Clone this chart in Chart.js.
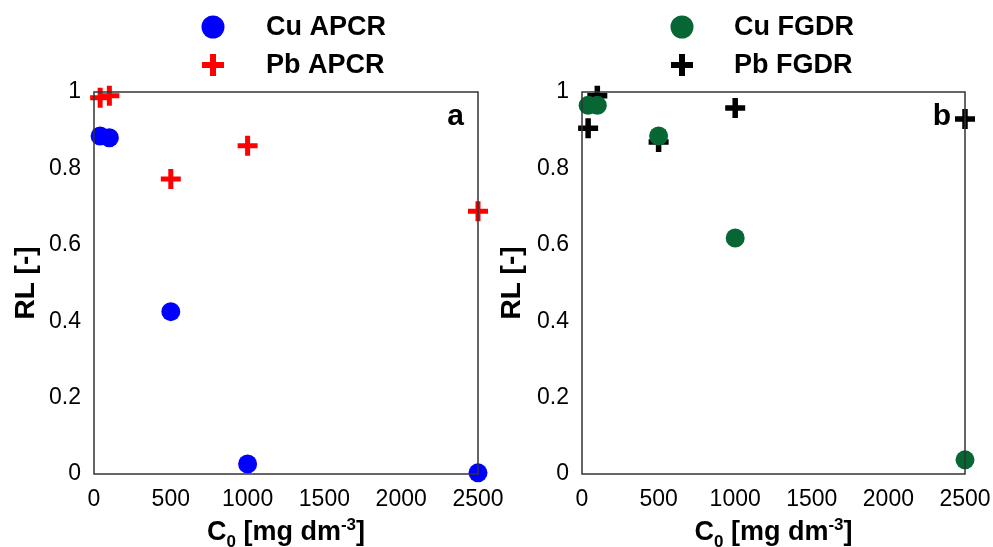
<!DOCTYPE html>
<html>
<head>
<meta charset="utf-8">
<title>RL vs C0</title>
<script src="https://cdn.jsdelivr.net/npm/chart.js@4.4.1/dist/chart.umd.min.js"></script>
<style>
  body { margin: 0; background: #fff; }
  #wrap { position: relative; width: 993px; height: 547px; overflow: hidden; background: #fff; }
  canvas { position: absolute; top: 0; }
  #chartA { left: 0; }
  #chartB { left: 500px; }
</style>
</head>
<body>
<div id="wrap">
  <canvas id="chartA" width="520" height="547"></canvas>
  <canvas id="chartB" width="507" height="547"></canvas>
</div>
<script>
// initial concentrations C0 [mg dm-3]
const conc = [40, 100, 500, 1000, 2500];

// RL values, APCR panel
const cuAPCR = [0.885, 0.88, 0.425, 0.026, 0.003];
const pbAPCR = [0.985, 0.99, 0.772, 0.859, 0.688];

// RL values, FGDR panel
const cuFGDR = [0.965, 0.965, 0.885, 0.618, 0.037];
const pbFGDR = [0.905, 0.99, 0.869, 0.958, 0.929];

const xTickStep = 500;
const yTickStep = 0.2;

const FONT = "'Liberation Sans', Arial, sans-serif";
Chart.defaults.font.family = FONT;
Chart.defaults.color = "#000";

function toPoints(values) {
  return conc.map((c, i) => ({ x: c, y: values[i] }));
}

function circleSet(label, values, color) {
  return {
    label: label,
    data: toPoints(values),
    pointStyle: "circle",
    pointRadius: 9.5,
    pointHoverRadius: 9.5,
    backgroundColor: color,
    borderColor: color,
    borderWidth: 0,
    clip: false,
  };
}

function crossSet(label, values, color, width) {
  return {
    label: label,
    data: toPoints(values),
    pointStyle: "cross",
    pointRadius: 10,
    pointHoverRadius: 10,
    backgroundColor: color,
    borderColor: color,
    borderWidth: width,
    pointBorderWidth: width,
    clip: false,
  };
}

// frame, panel letter, axis titles and stacked legend
const panelDeco = {
  id: "panelDeco",
  afterDatasetsDraw(chart, args, opts) {
    const ctx = chart.ctx;
    const a = chart.chartArea;
    ctx.save();

    ctx.strokeStyle = "#333";
    ctx.lineWidth = 1.5;
    ctx.strokeRect(a.left, a.top, a.right - a.left, a.bottom - a.top);

    ctx.fillStyle = "#000";
    ctx.font = "bold 30px " + FONT;
    ctx.textAlign = "right";
    ctx.textBaseline = "alphabetic";
    ctx.fillText(opts.letter, a.right - 14, 125);

    // x title with subscript / superscript
    const parts = [
      ["C", 0], ["0", 1], [" [mg dm", 0], ["-3", -1], ["]", 0],
    ];
    const big = "bold 27px " + FONT;
    const small = "bold 17px " + FONT;
    let total = 0;
    parts.forEach((p) => {
      ctx.font = p[1] === 0 ? big : small;
      total += ctx.measureText(p[0]).width;
    });
    let x = (a.left + a.right) / 2 - total / 2;
    ctx.textAlign = "left";
    parts.forEach((p) => {
      ctx.font = p[1] === 0 ? big : small;
      const dy = p[1] === 1 ? 7 : p[1] === -1 ? -10 : 0;
      ctx.fillText(p[0], x, 540 + dy);
      x += ctx.measureText(p[0]).width;
    });

    // y title
    ctx.save();
    ctx.translate(opts.yTitleX, (a.top + a.bottom) / 2);
    ctx.rotate(-Math.PI / 2);
    ctx.font = "bold 28px " + FONT;
    ctx.textAlign = "center";
    ctx.textBaseline = "middle";
    ctx.fillText("RL [-]", 0, 0);
    ctx.restore();

    // legend, one entry per row
    chart.data.datasets.forEach((ds, i) => {
      const y = opts.legendY[i];
      const mx = opts.legendMarkX;
      ctx.fillStyle = ds.backgroundColor;
      ctx.strokeStyle = ds.borderColor;
      if (ds.pointStyle === "circle") {
        ctx.beginPath();
        ctx.arc(mx, y, 11.5, 0, Math.PI * 2);
        ctx.fill();
      } else {
        ctx.lineWidth = 6;
        ctx.beginPath();
        ctx.moveTo(mx - 11, y);
        ctx.lineTo(mx + 11, y);
        ctx.moveTo(mx, y - 11);
        ctx.lineTo(mx, y + 11);
        ctx.stroke();
      }
      ctx.fillStyle = "#000";
      ctx.font = "bold 27px " + FONT;
      ctx.textAlign = "left";
      ctx.textBaseline = "middle";
      ctx.fillText(ds.label, opts.legendTextX, y + 1);
    });

    ctx.restore();
  },
};

function makePanel(id, datasets, deco, yWidth, padRight) {
  return new Chart(document.getElementById(id), {
    type: "scatter",
    data: { datasets: datasets },
    plugins: [panelDeco],
    options: {
      responsive: false,
      animation: false,
      events: [],
      layout: { padding: { left: 0, top: 92, right: padRight, bottom: 0 } },
      plugins: {
        legend: { display: false },
        tooltip: { enabled: false },
        panelDeco: deco,
      },
      scales: {
        x: {
          type: "linear",
          min: 0,
          max: 2500,
          grid: { display: false, drawTicks: false },
          border: { display: false },
          ticks: {
            stepSize: xTickStep,
            padding: 12,
            font: { size: 23 },
            maxRotation: 0,
            callback: (v) => String(v),
          },
          afterFit(scale) { scale.height = 73; },
        },
        y: {
          min: 0,
          max: 1,
          grid: { display: false, drawTicks: false },
          border: { display: false },
          ticks: {
            stepSize: yTickStep,
            padding: 13,
            font: { size: 23 },
            callback: (v) => String(Math.round(v * 10) / 10),
          },
          afterFit(scale) { scale.width = yWidth; },
        },
      },
    },
  });
}

makePanel(
  "chartA",
  [circleSet("Cu APCR", cuAPCR, "#0000ff"), crossSet("Pb APCR", pbAPCR, "#ff0000", 5)],
  { letter: "a", yTitleX: 26, legendMarkX: 213, legendTextX: 266, legendY: [27, 65] },
  94,
  42
);

makePanel(
  "chartB",
  [circleSet("Cu FGDR", cuFGDR, "#066634"), crossSet("Pb FGDR", pbFGDR, "#000000", 5.5)],
  { letter: "b", yTitleX: 12, legendMarkX: 182, legendTextX: 234, legendY: [27, 65] },
  82,
  42
);
</script>
</body>
</html>
